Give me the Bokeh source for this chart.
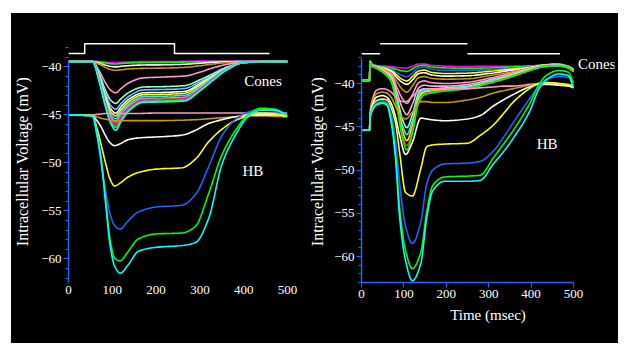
import numpy as np
from bokeh.plotting import figure
from bokeh.layouts import row
from bokeh.models import FixedTicker, Range1d
from bokeh.core.properties import value
from bokeh.embed import file_html
from bokeh.resources import INLINE

# ---------------- data ----------------
# colours
MAG = "#ff00ff"; GRN = "#00ff00"; BLU = "#1a66ff"; YEL = "#ffff00"; WHT = "#ffffff"
BRN = "#c89b00"; PNK = "#ff99cc"; PNK2 = "#ffaadd"; AQU = "#99ffcc"; LBL = "#66ccff"
CYN = "#00ffff"; RED = "#ff3030"

x_ticks = [0, 100, 200, 300, 400, 500]
y_ticks = [-60, -55, -50, -45, -40]

# stimulus markers
stim_t_left = [0, 37, 37, 242, 242, 459]
stim_v_left = [-38.6, -38.6, -37.6, -37.6, -38.6, -38.6]
stim_t_right = [0, 44, np.nan, 44, 250, np.nan, 250, 468]
stim_v_right = [-36.57, -36.57, np.nan, -35.41, -35.41, np.nan, -36.57, -36.57]

# ---- left panel, cones ----
t_cones_left = [0, 55, 70, 85, 97, 108, 120, 140, 170, 220, 265, 300, 330, 360, 400, 450, 500]
cones_left = [
    (MAG, [-39.4, -39.4, -39.45, -39.5, -39.55, -39.55, -39.52, -39.48, -39.45, -39.45, -39.42, -39.4, -39.4, -39.4, -39.4, -39.4, -39.4]),
    (GRN, [-39.45, -39.45, -39.5, -39.6, -39.68, -39.7, -39.65, -39.6, -39.55, -39.53, -39.5, -39.47, -39.45, -39.44, -39.44, -39.45, -39.45]),
    (WHT, [-39.45, -39.45, -39.6, -39.82, -39.96, -40.0, -39.94, -39.86, -39.8, -39.78, -39.72, -39.62, -39.53, -39.47, -39.45, -39.45, -39.45]),
    (BRN, [-39.5, -39.5, -39.72, -40.06, -40.28, -40.35, -40.3, -40.2, -40.15, -40.12, -40.05, -39.88, -39.7, -39.56, -39.5, -39.5, -39.5]),
    (PNK, [-39.45, -39.45, -40.4, -41.7, -42.45, -42.7, -42.25, -41.6, -41.15, -41.05, -40.95, -40.55, -40.1, -39.75, -39.5, -39.45, -39.45]),
    (AQU, [-39.45, -39.45, -40.7, -42.5, -43.5, -43.8, -43.3, -42.6, -42.1, -42.05, -41.95, -41.35, -40.7, -40.05, -39.55, -39.45, -39.45]),
    (LBL, [-39.45, -39.45, -40.85, -42.9, -44.05, -44.4, -43.8, -43.0, -42.4, -42.35, -42.25, -41.55, -40.85, -40.1, -39.55, -39.45, -39.45]),
    (WHT, [-39.45, -39.45, -41.0, -43.2, -44.4, -44.8, -44.15, -43.3, -42.7, -42.65, -42.55, -41.75, -40.95, -40.15, -39.55, -39.45, -39.45]),
    (YEL, [-39.45, -39.45, -41.1, -43.45, -44.7, -45.1, -44.45, -43.55, -42.9, -42.85, -42.75, -41.9, -41.0, -40.2, -39.55, -39.45, -39.45]),
    (CYN, [-39.45, -39.45, -41.2, -43.6, -45.0, -45.4, -44.7, -43.8, -43.1, -43.05, -42.95, -42.05, -41.1, -40.2, -39.55, -39.45, -39.45]),
    (PNK, [-39.45, -39.45, -41.3, -43.8, -45.25, -45.7, -45.0, -44.0, -43.3, -43.25, -43.15, -42.2, -41.2, -40.25, -39.55, -39.45, -39.45]),
    (RED, [-39.45, -39.45, -41.35, -43.95, -45.45, -45.9, -45.15, -44.15, -43.4, -43.35, -43.25, -42.3, -41.25, -40.3, -39.55, -39.45, -39.45]),
    (MAG, [-39.45, -39.45, -41.4, -44.05, -45.6, -46.1, -45.3, -44.3, -43.5, -43.45, -43.35, -42.4, -41.3, -40.3, -39.55, -39.45, -39.45]),
    (GRN, [-39.45, -39.45, -41.45, -44.15, -45.8, -46.3, -45.5, -44.4, -43.6, -43.55, -43.45, -42.45, -41.35, -40.35, -39.55, -39.45, -39.45]),
    (CYN, [-39.45, -39.45, -41.5, -44.25, -45.95, -46.6, -45.7, -44.5, -43.7, -43.65, -43.55, -42.5, -41.4, -40.35, -39.55, -39.45, -39.45]),
]

# ---- left panel, HB ----
t_hb_left = [0, 55, 65, 75, 85, 95, 105, 118, 135, 160, 200, 260, 290, 320, 350, 380, 410, 440, 470, 500]
hb_left = [
    (PNK, [-45.0, -45.0, -44.95, -44.9, -44.85, -44.85, -44.85, -44.85, -44.85, -44.85, -44.8, -44.8, -44.8, -44.8, -44.8, -44.8, -44.8, -44.8, -44.8, -44.8]),
    (BRN, [-45.0, -45.05, -45.2, -45.35, -45.45, -45.55, -45.6, -45.6, -45.6, -45.6, -45.6, -45.55, -45.5, -45.4, -45.3, -45.2, -45.1, -45.1, -45.15, -45.2]),
    (WHT, [-45.0, -45.1, -45.6, -46.3, -47.2, -47.9, -48.2, -48.0, -47.6, -47.4, -47.3, -47.1, -46.6, -45.9, -45.5, -45.2, -45.0, -45.0, -45.0, -45.0]),
    (YEL, [-45.0, -45.1, -46.4, -48.2, -50.1, -51.7, -52.4, -52.1, -51.5, -51.0, -50.65, -50.5, -49.6, -47.8, -46.5, -45.6, -45.1, -44.8, -44.9, -45.2]),
    (BLU, [-45.0, -45.2, -47.2, -50.3, -53.0, -55.3, -56.5, -56.9, -56.1, -55.1, -54.6, -54.4, -53.3, -50.4, -47.2, -45.5, -44.7, -44.4, -44.6, -45.0]),
    (GRN, [-45.0, -45.1, -47.0, -49.8, -54.0, -58.0, -59.9, -60.2, -59.3, -57.9, -57.4, -57.3, -56.6, -53.2, -49.2, -46.7, -45.0, -44.3, -44.4, -45.0]),
    (CYN, [-45.0, -45.1, -47.0, -49.8, -54.3, -58.6, -60.7, -61.5, -60.7, -59.2, -58.8, -58.6, -58.3, -55.8, -50.2, -47.2, -45.2, -44.5, -44.5, -45.1]),
]

# ---- right panel, cones ----
t_cones_right = [0, 19, 20, 24, 35, 55, 70, 85, 97, 107, 120, 135, 148, 165, 200, 250, 300, 350, 400, 430, 460, 485, 500]
cones_right = [
    (MAG, [-39.65, -39.65, -37.4, -37.7, -37.9, -38.0, -38.05, -38.15, -38.2, -38.2, -38.0, -37.75, -37.75, -37.9, -38.0, -38.05, -38.0, -38.0, -37.95, -37.85, -37.75, -37.95, -38.3]),
    (GRN, [-39.65, -39.65, -37.4, -37.7, -37.95, -38.1, -38.2, -38.4, -38.55, -38.6, -38.3, -37.95, -37.9, -38.1, -38.2, -38.25, -38.2, -38.1, -38.0, -37.85, -37.75, -37.95, -38.3]),
    (BLU, [-39.65, -39.65, -37.45, -37.75, -38.0, -38.2, -38.35, -38.8, -39.1, -39.2, -38.8, -38.2, -38.1, -38.35, -38.5, -38.5, -38.4, -38.25, -38.05, -37.9, -37.8, -38.0, -38.4]),
    (YEL, [-39.65, -39.65, -37.45, -37.8, -38.05, -38.25, -38.5, -39.1, -39.55, -39.7, -39.2, -38.55, -38.45, -38.7, -38.85, -38.8, -38.6, -38.35, -38.1, -37.9, -37.8, -38.0, -38.4]),
    (WHT, [-39.65, -39.65, -37.5, -37.8, -38.05, -38.3, -38.6, -39.4, -39.9, -40.1, -39.6, -38.85, -38.75, -39.0, -39.15, -39.1, -38.85, -38.5, -38.15, -37.9, -37.8, -38.05, -38.45]),
    (BRN, [-39.65, -39.65, -37.5, -37.85, -38.1, -38.4, -38.8, -39.9, -40.7, -41.0, -40.3, -39.3, -39.2, -39.4, -39.5, -39.45, -39.1, -38.7, -38.2, -37.95, -37.85, -38.05, -38.5]),
    (PNK, [-39.65, -39.65, -37.5, -37.85, -38.1, -38.5, -39.0, -40.6, -41.8, -42.3, -41.3, -39.9, -39.7, -39.9, -40.0, -39.85, -39.4, -38.85, -38.25, -37.95, -37.85, -38.05, -38.5]),
    (PNK2, [-39.65, -39.65, -37.55, -37.9, -38.15, -38.6, -39.2, -41.2, -42.9, -43.6, -42.4, -40.5, -40.2, -40.3, -40.3, -40.1, -39.6, -39.0, -38.3, -38.0, -37.9, -38.1, -38.5]),
    (AQU, [-39.65, -39.65, -37.55, -37.9, -38.15, -38.7, -39.4, -41.9, -44.2, -45.1, -43.6, -41.1, -40.6, -40.6, -40.5, -40.3, -39.75, -39.1, -38.35, -38.0, -37.9, -38.1, -38.55]),
    (CYN, [-39.65, -39.65, -37.55, -37.9, -38.2, -38.75, -39.5, -42.3, -44.9, -45.9, -44.3, -41.4, -40.8, -40.75, -40.6, -40.4, -39.8, -39.15, -38.4, -38.0, -37.9, -38.1, -38.55]),
    (YEL, [-39.65, -39.65, -37.6, -37.95, -38.2, -38.8, -39.6, -42.6, -45.5, -46.6, -44.9, -41.7, -41.0, -40.9, -40.7, -40.5, -39.9, -39.2, -38.4, -38.05, -37.95, -38.15, -38.6]),
    (RED, [-39.65, -39.65, -37.6, -37.95, -38.2, -38.85, -39.7, -42.9, -46.0, -47.2, -45.4, -42.0, -41.2, -41.0, -40.8, -40.55, -39.95, -39.25, -38.45, -38.05, -37.95, -38.15, -38.6]),
    (GRN, [-39.65, -39.65, -37.6, -38.0, -38.25, -38.9, -39.8, -43.1, -46.4, -47.7, -45.8, -42.2, -41.3, -41.1, -40.85, -40.6, -40.0, -39.3, -38.45, -38.05, -37.95, -38.15, -38.6]),
]

# ---- right panel, HB ----
t_hb_right = [0, 19, 20, 25, 35, 50, 60, 70, 80, 90, 104, 120, 140, 154, 168, 196, 250, 280, 311, 338, 357, 396, 419, 438, 465, 488, 500]
hb_right = [
    (PNK, [-45.4, -45.4, -43.6, -42.0, -40.8, -40.6, -40.7, -41.0, -41.5, -42.0, -42.1, -41.5, -40.7, -40.6, -40.6, -40.6, -40.6, -40.5, -40.4, -40.3, -40.3, -40.1, -40.0, -39.9, -40.0, -40.1, -40.2]),
    (BRN, [-45.4, -45.4, -43.8, -42.3, -41.2, -41.0, -41.1, -41.6, -42.6, -43.6, -44.1, -43.3, -42.1, -42.1, -42.2, -42.2, -41.9, -41.6, -41.1, -40.8, -40.6, -40.2, -40.0, -40.0, -40.1, -40.2, -40.3]),
    (WHT, [-45.4, -45.4, -43.9, -42.6, -41.6, -41.4, -41.6, -42.3, -43.8, -46.0, -48.2, -46.8, -44.0, -44.1, -44.2, -44.3, -44.1, -43.7, -42.6, -41.8, -41.3, -40.4, -40.1, -40.1, -40.2, -40.3, -40.5]),
    (YEL, [-45.4, -45.4, -44.0, -42.9, -42.0, -41.8, -41.9, -42.8, -44.5, -48.0, -52.6, -53.0, -49.8, -47.3, -47.1, -47.0, -46.9, -46.0, -44.8, -43.3, -42.2, -40.6, -40.0, -39.9, -40.0, -40.2, -40.4]),
    (BLU, [-45.4, -45.4, -44.0, -43.0, -42.2, -42.0, -42.2, -43.5, -46.5, -51.5, -56.5, -58.5, -56.0, -51.6, -50.0, -49.3, -49.2, -49.0, -47.8, -46.0, -44.6, -41.8, -40.3, -39.5, -39.2, -39.3, -39.8]),
    (GRN, [-45.4, -45.4, -44.1, -43.1, -42.4, -42.2, -42.4, -44.2, -48.0, -54.5, -59.3, -61.4, -59.5, -54.8, -51.8, -50.8, -50.7, -50.6, -48.6, -46.8, -45.5, -42.4, -40.1, -39.0, -38.5, -38.7, -40.0]),
    (CYN, [-45.4, -45.4, -44.1, -43.2, -42.5, -42.3, -42.5, -44.5, -48.5, -55.5, -60.5, -62.8, -60.8, -55.5, -52.4, -51.3, -51.3, -51.2, -49.3, -47.7, -46.4, -43.3, -40.6, -39.5, -38.9, -39.1, -40.5]),
]

# ---------------- helpers ----------------
FONT = "Liberation Serif"
AX = "#1f66ff"
BG = "#000000"


def pchip(x, y, n_per=10):
    """monotone cubic interpolation, only used to draw smooth lines through the read points"""
    x = np.asarray(x, float); y = np.asarray(y, float)
    h = np.diff(x); d = np.diff(y) / h
    m = np.zeros_like(y)
    for k in range(1, len(x) - 1):
        if d[k - 1] * d[k] > 0:
            w1 = 2 * h[k] + h[k - 1]; w2 = h[k] + 2 * h[k - 1]
            m[k] = (w1 + w2) / (w1 / d[k - 1] + w2 / d[k])
    m[0] = d[0]; m[-1] = d[-1]
    xs, ys = [], []
    s = np.linspace(0, 1, n_per, endpoint=False)
    h00 = 2 * s**3 - 3 * s**2 + 1; h10 = s**3 - 2 * s**2 + s
    h01 = -2 * s**3 + 3 * s**2; h11 = s**3 - s**2
    for k in range(len(x) - 1):
        xs.extend(x[k] + s * h[k])
        ys.extend(h00 * y[k] + h10 * h[k] * m[k] + h01 * y[k + 1] + h11 * h[k] * m[k + 1])
    xs.append(x[-1]); ys.append(y[-1])
    return xs, ys


def make_fig(width, height, xr, yr, mbl, mbr, mbt, mbb):
    p = figure(width=width, height=height, x_range=Range1d(*xr), y_range=Range1d(*yr),
               output_backend="svg", toolbar_location=None, tools="",
               background_fill_color=BG, border_fill_color=BG,
               min_border_left=mbl, min_border_right=mbr, min_border_top=mbt, min_border_bottom=mbb)
    p.outline_line_color = None
    p.grid.visible = False
    return p


def style_axes(p, ybounds, y_label_standoff, xline):
    ya = p.yaxis[0]
    ya.ticker = FixedTicker(ticks=y_ticks, minor_ticks=list(range(-63, -36)))
    ya.bounds = ybounds
    ya.axis_line_color = AX; ya.axis_line_width = 1.5
    ya.major_tick_line_color = AX; ya.minor_tick_line_color = AX
    ya.major_tick_out = 5; ya.major_tick_in = 0
    ya.minor_tick_out = 3; ya.minor_tick_in = 0
    ya.major_label_standoff = 2
    ya.major_label_text_font = FONT; ya.major_label_text_font_size = "13px"
    ya.major_label_text_color = "white"
    ya.axis_label = "Intracellular Voltage (mV)"
    ya.axis_label_text_font = FONT; ya.axis_label_text_font_size = "16px"
    ya.axis_label_text_font_style = "normal"; ya.axis_label_text_color = "white"
    ya.axis_label_standoff = y_label_standoff

    xa = p.xaxis[0]
    xa.ticker = FixedTicker(ticks=x_ticks, minor_ticks=[])
    xa.bounds = (0, 500)
    xa.major_label_text_font = FONT; xa.major_label_text_font_size = "13px"
    xa.major_label_text_color = "white"
    if xline:
        xa.axis_line_color = AX; xa.axis_line_width = 1.5
        xa.major_tick_line_color = AX
        xa.major_tick_out = 5; xa.major_tick_in = 0
        xa.major_label_standoff = 2
    else:
        xa.axis_line_color = None
        xa.major_tick_line_color = None
        xa.major_tick_out = 0; xa.major_tick_in = 0
        xa.major_label_standoff = 3


def draw(p, t, curves, lw=1.6):
    for col, v in curves:
        xs, ys = pchip(t, v)
        p.line(xs, ys, line_color=col, line_width=lw)


def label(p, x, y, txt, size="15px"):
    p.text(x=[x], y=[y], text=[txt], text_color="white", text_font=value(FONT),
           text_font_size=size, text_align="center", text_baseline="middle")


# ---------------- left panel ----------------
p1 = make_fig(295, 330, (0, 500), (-62.46, -37.25), 56, 19, 27, 58)
style_axes(p1, (-62.46, -39.45), 7, xline=False)
draw(p1, t_cones_left, cones_left)
draw(p1, t_hb_left, hb_left)
p1.line(stim_t_left, stim_v_left, line_color="white", line_width=1.5)
label(p1, 444, -41.47, "Cones")
label(p1, 421, -50.83, "HB")

# ---------------- right panel ----------------
p2 = make_fig(312, 330, (0, 596.8), (-63.0, -35.03), 49, 4, 27, 61)
style_axes(p2, (-63.0, -37.1), 5, xline=True)
p2.xaxis[0].axis_label = "Time (msec)"
p2.xaxis[0].axis_label_text_font = FONT
p2.xaxis[0].axis_label_text_font_size = "15px"
p2.xaxis[0].axis_label_text_font_style = "normal"
p2.xaxis[0].axis_label_text_color = "white"
p2.xaxis[0].axis_label_standoff = 6
draw(p2, t_cones_right, cones_right)
draw(p2, t_hb_right, hb_right)
p2.line(stim_t_right, stim_v_right, line_color="white", line_width=1.5)
label(p2, 555, -37.8, "Cones")
label(p2, 438, -46.94, "HB")

layout = row(p1, p2, margin=(13, 0, 0, 11),
             styles={"background-color": "black",
                     "outline": "1px solid white",
                     "clip-path": "inset(-1px -2px 0px 0px)"})

html = file_html(layout, INLINE)
html = html.replace("<body>", '<body style="background-color:#cdc9c7;">', 1)
open("out.html", "w").write(html)
